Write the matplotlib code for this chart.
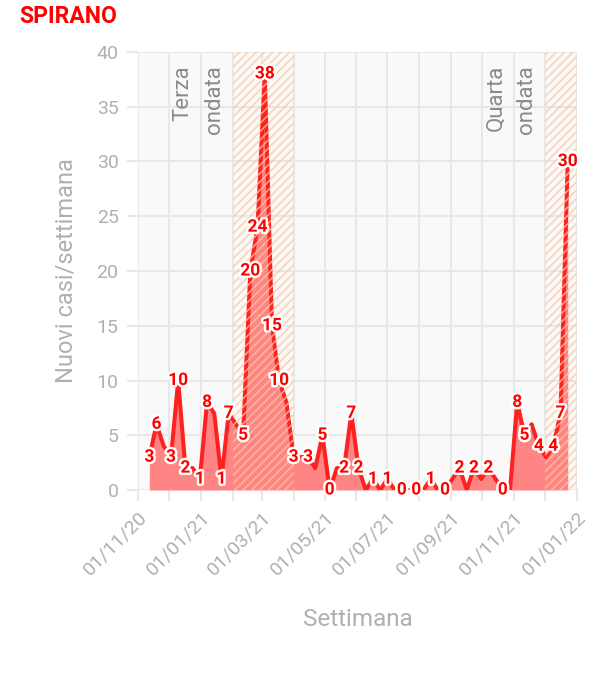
import numpy as np
import pandas as pd
import matplotlib
matplotlib.use('Agg')
import matplotlib.pyplot as plt
import matplotlib.dates as mdates
import matplotlib.patheffects as pe

plt.rcParams['font.family'] = ['Roboto', 'DejaVu Sans']

# weekly new cases, one value per week starting from first_week
first_week = '2020-11-12'
weekly_cases = [3, 6, 4, 3, 10, 2, 2, 1, 8, 7,
                1, 7, 6, 5, 20, 24, 38, 15, 10, 8,
                3, 3, 3, 2, 5, 0, 2, 2, 7, 2,
                0, 1, 0, 1, 0, 0, 0, 0, 0, 1,
                0, 0, 1, 2, 0, 2, 1, 2, 1, 0,
                0, 8, 5, 6, 4, 3, 4, 7, 30]
# 1 = value label visible in the reference, 0 = hidden (overlapping)
label_shown = [1, 1, 0, 1, 1, 1, 0, 1, 1, 0,
               1, 1, 0, 1, 1, 1, 1, 1, 1, 0,
               1, 0, 1, 0, 1, 1, 0, 1, 1, 1,
               0, 1, 0, 1, 0, 1, 0, 1, 0, 1,
               0, 1, 0, 1, 0, 1, 0, 1, 0, 1,
               0, 1, 1, 0, 1, 0, 1, 1, 1]

wave_starts = ['2021-02-01', '2021-12-01']
wave_ends = ['2021-04-01', '2022-01-01']
wave_names = [['Terza', 'ondata'], ['Quarta', 'ondata']]

x_start, x_end = '2020-11-01', '2022-01-01'

RED = '#ff2020'
FILL = '#ff8585'
GRID = '#e8e8e8'
TICK_TXT = '#b0b0b0'

weeks = pd.date_range(first_week, periods=len(weekly_cases), freq='7D')

fig = plt.figure(figsize=(6.09, 6.8), dpi=100)
ax = fig.add_axes([138 / 609, 1 - 490 / 680, 439 / 609, 438 / 680])
ax.set_facecolor('#f9f9f9')
for s in ax.spines.values():
    s.set_visible(False)

# area + line
ax.fill_between(weeks, 0, weekly_cases, color=FILL, lw=0, zorder=2)
ax.plot(weeks, weekly_cases, color=RED, lw=2.9, solid_joinstyle='round',
        solid_capstyle='round', zorder=3)

# hatched wave periods with their names
plt.rcParams['hatch.linewidth'] = 1.1
for ws, we, name in zip(wave_starts, wave_ends, wave_names):
    ax.axvspan(pd.Timestamp(ws), pd.Timestamp(we), facecolor='none',
               edgecolor=(0.99, 0.78, 0.62, 0.8), hatch='////', lw=0, zorder=4)
    for line, dx in zip(name, [-39, -8]):
        ax.annotate(line, xy=(pd.Timestamp(ws), 38.8), xytext=(dx, 0),
                    textcoords='offset pixels', rotation=90, ha='right',
                    va='top', fontsize=16, color='#8a8a8a', zorder=5)

# value labels
for d, v, show in zip(weeks, weekly_cases, label_shown):
    if show:
        ax.text(d, v, str(v), ha='center', va='center', fontsize=12.5,
                fontweight='bold', color='#ff0000', zorder=6,
                path_effects=[pe.withStroke(linewidth=3.5, foreground='white')])

ax.set_xlim(pd.Timestamp(x_start), pd.Timestamp(x_end))
ax.set_ylim(0, 40)
ax.set_yticks(np.arange(0, 41, 5))

ax.xaxis.set_major_locator(mdates.MonthLocator(bymonth=[1, 3, 5, 7, 9, 11]))
ax.xaxis.set_minor_locator(mdates.MonthLocator())
ax.xaxis.set_major_formatter(mdates.DateFormatter('%d/%m/%y'))

ax.grid(True, which='both', axis='x', color=GRID, lw=1.5, zorder=0)
ax.grid(True, which='major', axis='y', color=GRID, lw=1.5, zorder=0)
ax.set_axisbelow(True)

ax.tick_params(axis='both', which='both', length=8, width=1.5, color=GRID,
               labelcolor=TICK_TXT, labelsize=14)
ax.tick_params(axis='y', pad=6)
ax.tick_params(axis='x', pad=5)
for lab in ax.get_xticklabels():
    lab.set_rotation(45)
    lab.set_ha('right')
    lab.set_va('top')
    lab.set_rotation_mode('anchor')

ax.set_ylabel('Nuovi casi/settimana', fontsize=17, color=TICK_TXT)
ax.yaxis.set_label_coords(-0.137, 0.5)
ax.set_xlabel('Settimana', fontsize=17.5, color=TICK_TXT)
ax.xaxis.set_label_coords(0.5, -0.269)

fig.text(19 / 609, 1 - 5 / 680, 'SPIRANO', ha='left', va='top', fontsize=16.5,
         fontweight='bold', color='#ff0000')

fig.savefig('out.png', dpi=100, facecolor='white')
